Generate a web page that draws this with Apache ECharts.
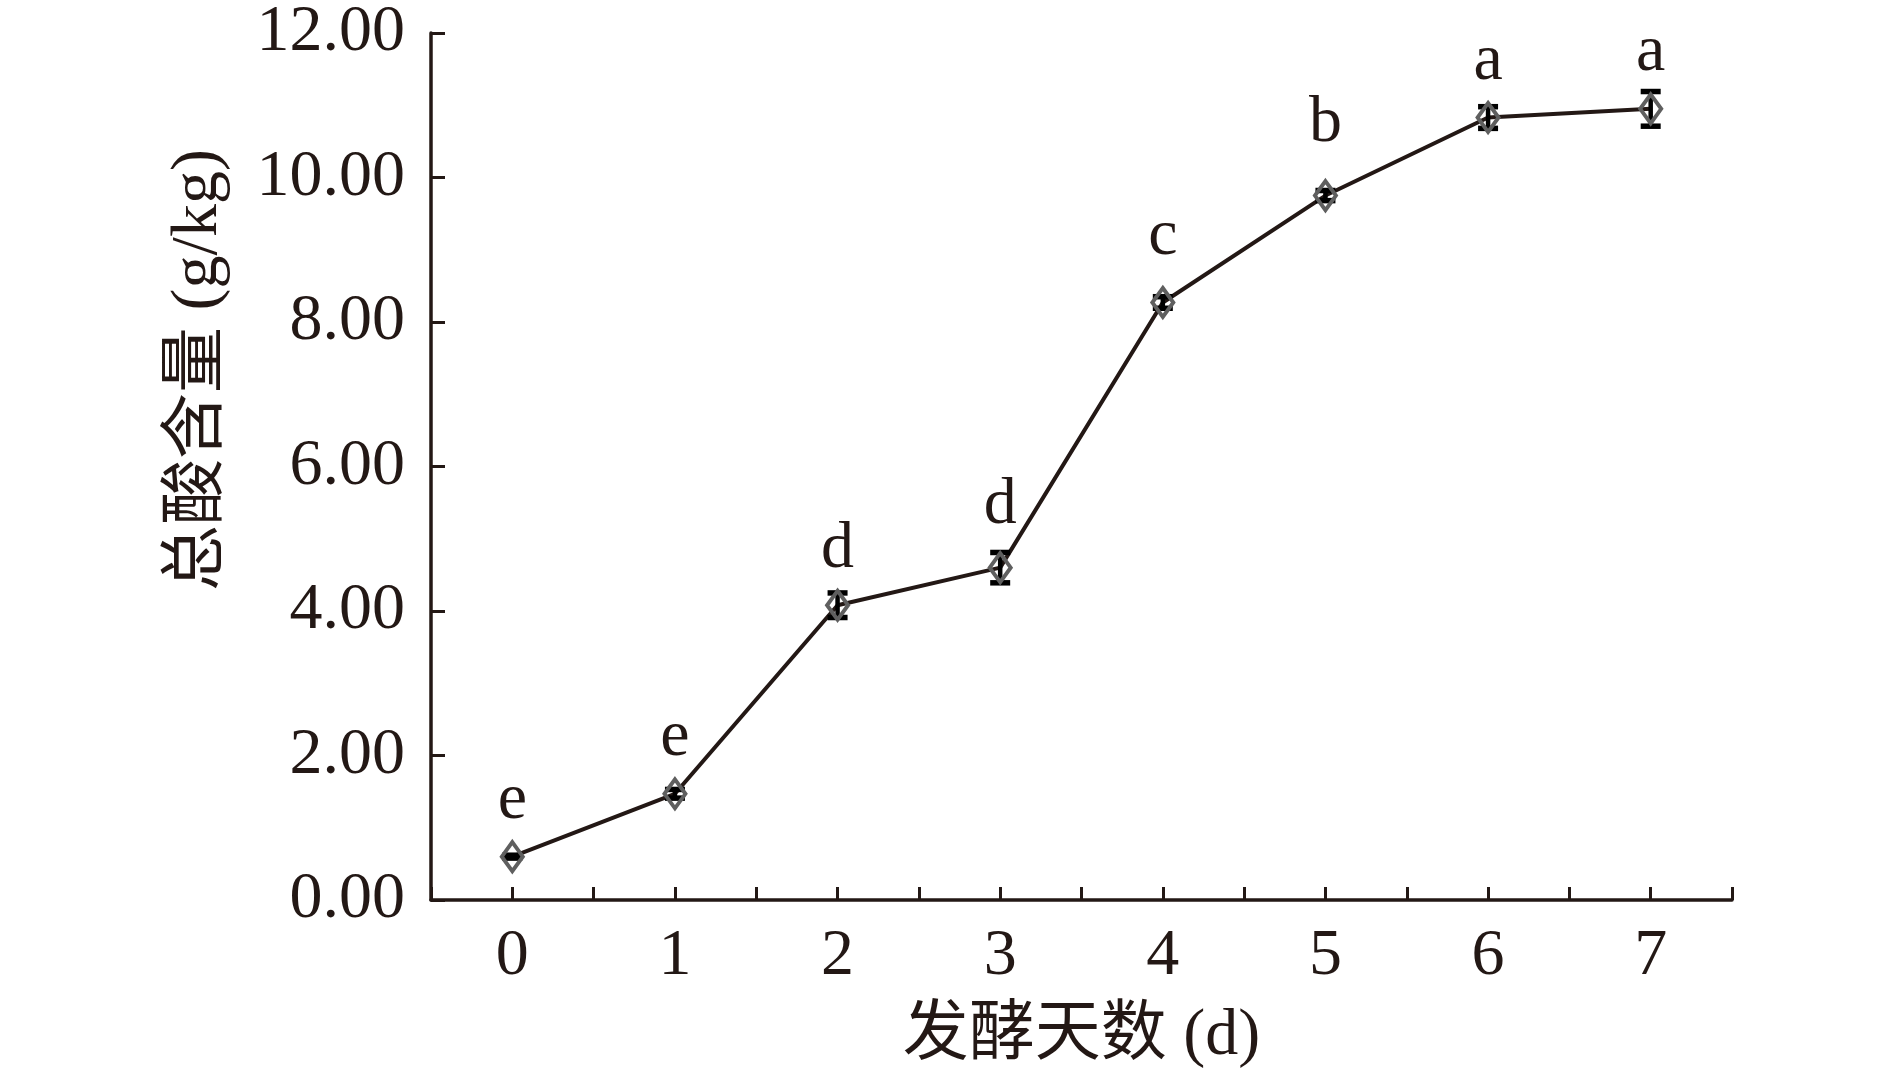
<!DOCTYPE html>
<html>
<head>
<meta charset="utf-8">
<script src="https://cdn.jsdelivr.net/npm/echarts@6/dist/echarts.min.js"></script>
<style>
  html, body { margin: 0; padding: 0; background: #ffffff; }
  #chart { width: 1890px; height: 1085px; }
</style>
</head>
<body>
<div id="chart"></div>
<script>
// ---- data ----
const days = ['0', '1', '2', '3', '4', '5', '6', '7'];
const acid = [0.60, 1.47, 4.08, 4.60, 8.27, 9.75, 10.83, 10.95];
const sd = [0.02, 0.06, 0.17, 0.21, 0.08, 0.07, 0.15, 0.24];
const letters = ['e', 'e', 'd', 'd', 'c', 'b', 'a', 'a'];
const yTicks = [0, 2, 4, 6, 8, 10, 12];
const xTitle = '发酵天数 (d)';
const yTitle = '总酸含量 (g/kg)';

const INK = '#231815';
const FONT = "'Liberation Serif', 'Noto Sans CJK SC', serif";
const FS = 66;

const chart = echarts.init(document.getElementById('chart'));

const pts = acid.map((v, i) => [i, v]);
const errData = acid.map((v, i) => [i, v - sd[i], v + sd[i]]);

// small per-letter vertical nudges (layout only)
const lift = [0, 0, 0, 6, 10, 16, 0, 0];
const scatterData = pts.map((p, i) => ({
  value: p,
  label: { distance: 6 + lift[i] }
}));

chart.setOption({
  backgroundColor: '#ffffff',
  animation: false,
  grid: { left: 431, right: 158, top: 29, bottom: 185, containLabel: false },
  xAxis: {
    type: 'value',
    min: -0.5,
    max: 7.5,
    interval: 0.5,
    splitLine: { show: false },
    axisLine: { show: true, lineStyle: { color: INK, width: 3.5 } },
    axisTick: { show: true, inside: true, length: 13, lineStyle: { color: INK, width: 3 } },
    axisLabel: {
      margin: 24,
      color: INK,
      fontFamily: FONT,
      fontSize: FS,
      formatter: function (v) {
        return Number.isInteger(v) && v >= 0 && v < days.length ? days[v] : '';
      }
    },
    name: xTitle,
    nameLocation: 'middle',
    nameGap: 104,
    nameTextStyle: { color: INK, fontFamily: FONT, fontSize: FS }
  },
  yAxis: {
    type: 'value',
    min: yTicks[0],
    max: yTicks[yTicks.length - 1],
    interval: yTicks[1] - yTicks[0],
    splitLine: { show: false },
    axisLine: { show: true, onZero: false, lineStyle: { color: INK, width: 3.5 } },
    axisTick: { show: true, inside: true, length: 14, lineStyle: { color: INK, width: 3 } },
    axisLabel: {
      margin: 26,
      color: INK,
      fontFamily: FONT,
      fontSize: FS,
      formatter: function (v) { return v.toFixed(2); }
    }
  },
  graphic: [{
    type: 'text',
    x: 199,
    y: 370,
    rotation: Math.PI / 2,
    style: {
      text: yTitle,
      fill: INK,
      font: FS + 'px ' + FONT,
      textAlign: 'center',
      textVerticalAlign: 'middle'
    }
  }],
  series: [
    {
      type: 'line',
      data: pts,
      showSymbol: false,
      symbol: 'none',
      lineStyle: { color: INK, width: 4 },
      z: 2
    },
    {
      type: 'custom',
      data: errData,
      z: 3,
      renderItem: function (params, api) {
        const x = api.value(0);
        const lo = api.coord([x, api.value(1)]);
        const hi = api.coord([x, api.value(2)]);
        const hw = 10;
        const st = { stroke: '#000000', lineWidth: 4.5 };
        const cap = { stroke: '#000000', lineWidth: 5.5 };
        return {
          type: 'group',
          children: [
            { type: 'line', shape: { x1: lo[0], y1: lo[1], x2: hi[0], y2: hi[1] }, style: st },
            { type: 'line', shape: { x1: lo[0] - hw, y1: lo[1], x2: lo[0] + hw, y2: lo[1] }, style: cap },
            { type: 'line', shape: { x1: hi[0] - hw, y1: hi[1], x2: hi[0] + hw, y2: hi[1] }, style: cap }
          ]
        };
      }
    },
    {
      type: 'scatter',
      data: scatterData,
      symbol: 'diamond',
      symbolSize: [21, 29],
      z: 4,
      itemStyle: { color: 'rgba(0,0,0,0)', borderColor: '#5f5f5f', borderWidth: 4, opacity: 1 },
      label: {
        show: true,
        position: 'top',
        distance: 6,
        color: INK,
        fontFamily: FONT,
        fontSize: FS,
        formatter: function (p) { return letters[p.dataIndex]; }
      },
      emphasis: { disabled: true }
    }
  ]
});
</script>
</body>
</html>
